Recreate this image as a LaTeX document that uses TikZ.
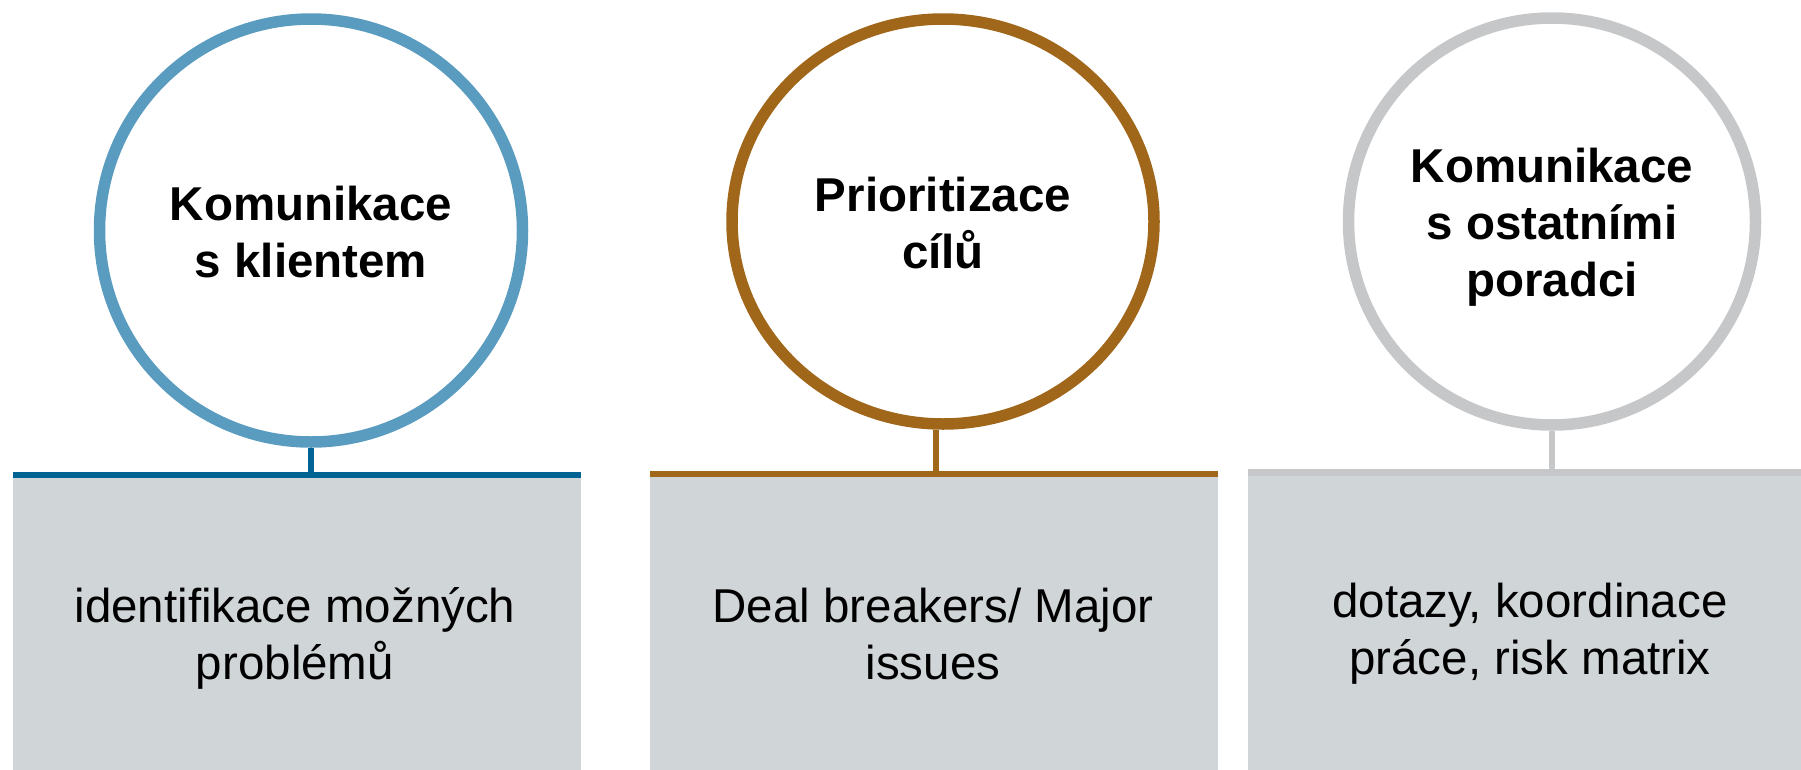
\documentclass[tikz,border=0pt]{standalone}
\usepackage{fontspec}
\setmainfont{Liberation Sans}
\usetikzlibrary{shapes.geometric}
\definecolor{cblue}{RGB}{90,156,191}
\definecolor{bblue}{RGB}{0,99,148}
\definecolor{cbrown}{RGB}{160,102,26}
\definecolor{cgray}{RGB}{198,199,201}
\definecolor{boxfill}{RGB}{208,213,216}
\tikzset{
  ring/.style={ellipse, draw, line width=11.5pt, inner sep=0pt, fill=white},
  panel/.style={rectangle, fill=boxfill, inner sep=0pt, anchor=north west, minimum height=300pt},
  title/.style={anchor=base, align=center, font=\fontsize{47.5}{57}\selectfont\bfseries},
  body/.style={anchor=base, align=center, font=\fontsize{47.5}{57}\selectfont},
  stem/.style={line width=6pt},
}
\begin{document}
\begin{tikzpicture}[x=1pt,y=-1pt]
\useasboundingbox (0,0) rectangle (1801,769);
% panels
\node[panel, minimum width=568pt] (b1) at (13,475) {};
\node[panel, minimum width=568pt] (b2) at (650,474) {};
\node[panel, minimum width=560pt] (b3) at (1248,472.5) {};
\draw[line width=6pt, bblue] (b1.north west) -- (b1.north east);
\draw[line width=6pt, cbrown] (b2.north west) -- (b2.north east);
\draw[line width=7pt, cgray] (b3.north west) -- (b3.north east);
% circles
\node[ring, draw=cblue, minimum width=423pt, minimum height=423pt] (c1) at (311,230.5) {};
\node[ring, draw=cbrown, minimum width=422pt, minimum height=405pt] (c2) at (943,221.5) {};
\node[ring, draw=cgray, minimum width=407pt, minimum height=407pt] (c3) at (1552,221.5) {};
% stems
\draw[stem, bblue] (c1.south) -- (c1.south |- b1.north);
\draw[stem, cbrown] ([xshift=-7pt]c2.south) -- ([xshift=-7pt]c2.south |- b2.north);
\draw[stem, cgray] (c3.south) -- (c3.south |- b3.north);
% titles (anchor = baseline of last line)
\node[title] (t1) at (311,277) {Komunikace\\s klientem};
\node[title] (t2) at (943,268) {Prioritizace\\cílů};
\node[title] (t3) at (1552,296) {Komunikace\\s ostatními\\poradci};
% body texts
\node[body] (x1) at (295,679) {identifikace možných\\problémů};
\node[body] (x2) at (933,679) {Deal breakers/ Major\\issues};
\node[body] (x3) at (1530,674) {dotazy, koordinace\\práce, risk matrix};
\end{tikzpicture}
\end{document}
